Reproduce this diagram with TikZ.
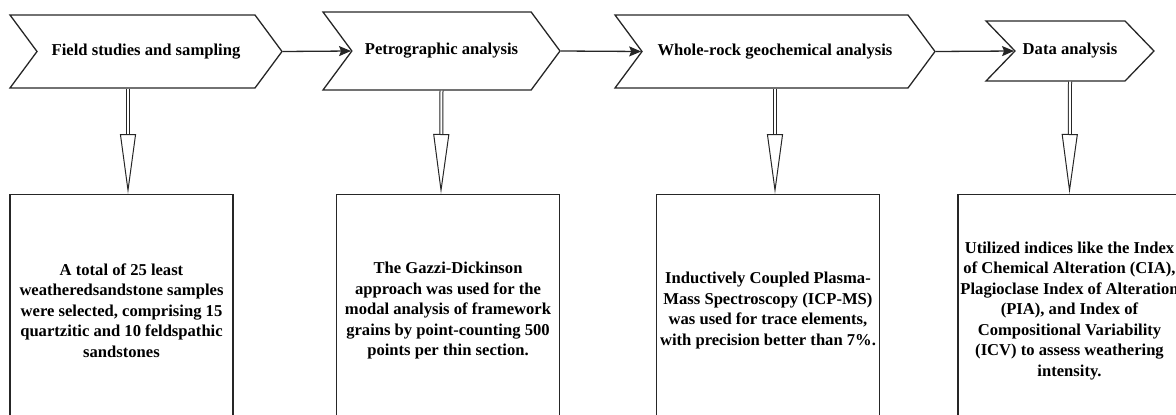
\documentclass[tikz,border=0pt]{standalone}
\usepackage{fontspec}
\setmainfont{Liberation Serif}
\usetikzlibrary{shapes.symbols}
\usetikzlibrary{arrows.meta}

\begin{document}
\begin{tikzpicture}[x=1pt, y=-1pt,
  every node/.style={font=\bfseries\fontsize{16.6}{20.5}\selectfont, text=black},
  stage/.style={draw=black!85, line width=1.3pt, signal, signal from=west, signal to=east, signal pointer angle=107, inner sep=0pt},
  detail/.style={draw=black!85, line width=1.3pt, rectangle, minimum width=223pt, minimum height=232pt, align=center, inner sep=0pt, anchor=north},
  flow/.style={draw=black!85, line width=1.3pt, -{Stealth[length=12pt, width=10pt, inset=2pt]}},
  hollow/.style={draw=black!85, line width=1pt, double, double distance=2pt, -{Triangle[open, length=60pt, width=16pt]}}]
\useasboundingbox (0,0) rectangle (1176,415);
\clip (0,0) rectangle (1176,415);

% stages
\node[stage, minimum width=272pt, minimum height=73pt] (field) at (146,51.5) {Field studies and sampling};
\node[stage, minimum width=237pt, minimum height=78pt] (petro) at (441.5,51) {Petrographic analysis};
\node[stage, minimum width=320pt, minimum height=73pt] (geochem) at (775,51.5) {Whole-rock geochemical analysis};
\node[stage, signal pointer angle=92, minimum width=168pt, minimum height=60pt] (data) at (1070,51) {Data analysis};

% details
\node[detail] (fieldbox) at (121.5,194) {A total of 25 least\\ weatheredsandstone samples\\ were selected, comprising 15\\ quartzitic and 10 feldspathic\\ sandstones};
\node[detail] (petrobox) at (448,194) {The Gazzi-Dickinson\\ approach was used for the\\ modal analysis of framework\\ grains by point-counting 500\\ points per thin section.};
\node[detail] (geochembox) at (768,194) {Inductively Coupled Plasma-\\ Mass Spectroscopy (ICP-MS)\\ was used for trace elements,\\ with precision better than 7\%.};
\node[detail] (databox) at (1069.5,194) {Utilized indices like the Index\\ of Chemical Alteration (CIA),\\ Plagioclase Index of Alteration\\ (PIA), and Index of\\ Compositional Variability\\ (ICV) to assess weathering\\ intensity.};

\draw[flow] (field.east) -- (petro.west);
\draw[flow] (petro.east) -- (geochem.west);
\draw[flow] (geochem.east) -- (data.west);

\draw[hollow] ([xshift=-18pt]field.south) -- ([xshift=6.5pt]fieldbox.north);
\draw[hollow] (petro.south) -- ([xshift=-7pt]petrobox.north);
\draw[hollow] (geochem.south) -- ([xshift=7pt]geochembox.north);
\draw[hollow] (data.south) -- (databox.north);
\end{tikzpicture}
\end{document}
